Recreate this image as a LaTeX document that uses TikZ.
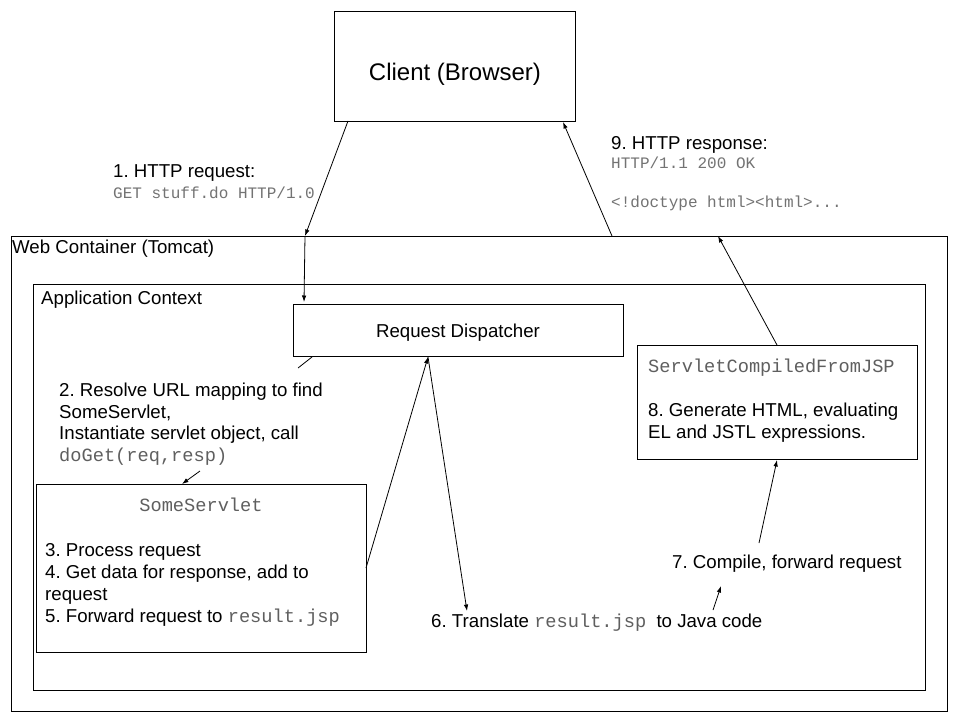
\documentclass[tikz,border=0pt]{standalone}
\usepackage{fontspec}
\setmainfont{Liberation Sans}
\setmonofont{Liberation Mono}
\usetikzlibrary{arrows.meta}
\frenchspacing
\definecolor{monogray}{RGB}{95,95,95}
\definecolor{lightgray}{RGB}{115,115,115}
\newcommand\bodyfont{\fontsize{18.67}{21.5}\selectfont}
\newcommand\monoB[1]{{\color{monogray}\ttfamily #1}}
\newcommand\monoS[1]{{\color{lightgray}\fontsize{16}{19.3}\selectfont\ttfamily #1}}
\begin{document}
\begin{tikzpicture}[x=1pt,y=-1pt,
  box/.style={draw=black, line width=1.1pt, inner sep=0pt, anchor=north west},
  lbl/.style={inner sep=0pt, anchor=base west, font=\bodyfont},
  clbl/.style={inner sep=0pt, anchor=base, font=\bodyfont},
  arr/.style={-{Latex[length=6.5pt,width=4.5pt]}, line width=0.8pt},
  lead/.style={line width=0.8pt}]
\useasboundingbox[fill=white] (0,0) rectangle (960,720);

% boxes
\node[box, minimum width=241pt, minimum height=110pt] (client) at (334,11) {};
\node[box, minimum width=936pt, minimum height=475pt] (web) at (11,236) {};
\node[box, minimum width=892pt, minimum height=406pt] (app) at (33,284) {};
\node[box, minimum width=330pt, minimum height=52pt] (disp) at (293,304) {};
\node[box, minimum width=330pt, minimum height=168pt] (serv) at (36,484) {};
\node[box, minimum width=280pt, minimum height=114pt] (scfj) at (637,345) {};

% texts
\node[clbl, font=\fontsize{24}{28}\selectfont] (clientT) at (455,80.5) {Client (Browser)};
\node[lbl] (webT) at (12,253) {Web Container (Tomcat)};
\node[lbl] (appT) at (41,304) {Application Context};
\node[clbl] (dispT) at (458,337) {Request Dispatcher};

\node[lbl, font=\fontsize{18.67}{21.5}\selectfont] (reqT) at (113,177)
  {\begin{tabular}[t]{@{}l@{}}1. HTTP request:\\ \monoS{GET stuff.do HTTP/1.0}\end{tabular}};
\node[lbl, font=\fontsize{18.67}{19.5}\selectfont] (respT) at (611,149)
  {\begin{tabular}[t]{@{}l@{}}9. HTTP response:\\ \monoS{HTTP/1.1 200 OK}\\ \\ \monoS{<!doctype html><html>...}\end{tabular}};

\node[lbl] (resolveT) at (59,396.5)
  {\begin{tabular}[t]{@{}l@{}}2. Resolve URL mapping to find\\ SomeServlet,\\ Instantiate servlet object, call\\ \monoB{doGet(req,resp)}\end{tabular}};

\node[clbl] (servT) at (201,511.5) {\monoB{SomeServlet}};
\node[lbl, font=\fontsize{18.67}{22}\selectfont] (procT) at (45,556)
  {\begin{tabular}[t]{@{}l@{}}3. Process request\\ 4. Get data for response, add to\\ request\\ 5. Forward request to \monoB{result.jsp}\end{tabular}};

\node[lbl] (transT) at (431,627) {6. Translate \monoB{result.jsp}\hspace{5pt} to Java code};
\node[lbl] (compT) at (672,568.5) {7. Compile, forward request};

\node[lbl] (scfjT) at (648,372) {\monoB{ServletCompiledFromJSP}};
\node[lbl, font=\fontsize{18.67}{22.5}\selectfont] (genT) at (648,416)
  {\begin{tabular}[t]{@{}l@{}}8. Generate HTML, evaluating\\ EL and JSTL expressions.\end{tabular}};

% connector end points
\coordinate (c1) at (348,121);
\coordinate (w1) at (305,236);
\coordinate (d1) at (304,302);
\coordinate (d2) at (312,357);
\coordinate (r2) at (298,368);
\coordinate (g1) at (200,471);
\coordinate (s1) at (182,484);
\coordinate (s2) at (366,568);
\coordinate (d3) at (428,357);
\coordinate (t1) at (467,611);
\coordinate (t2) at (713,610);
\coordinate (k1) at (721,586);
\coordinate (k2) at (759,543);
\coordinate (j1) at (777,460);
\coordinate (j2) at (777,345);
\coordinate (w2) at (718,236);
\coordinate (w3) at (612,236);
\coordinate (c2) at (563,122);

% connectors
\draw[arr] (c1) -- (w1);
\draw[arr] (w1) -- (d1);
\draw[lead] (d2) -- (r2);
\draw[arr] (g1) -- (s1);
\draw[arr] (s2) -- (d3);
\draw[arr] (d3) -- (t1);
\draw[arr] (t2) -- (k1);
\draw[arr] (k2) -- (j1);
\draw[arr] (j2) -- (w2);
\draw[arr] (w3) -- (c2);
\end{tikzpicture}
\end{document}
